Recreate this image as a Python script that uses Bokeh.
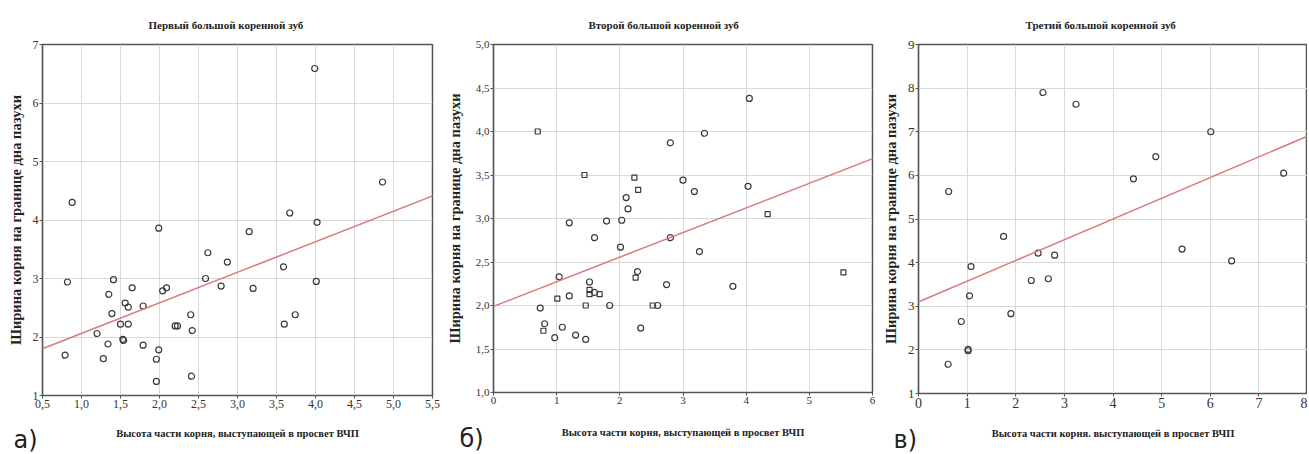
from bokeh.plotting import figure
from bokeh.layouts import row
from bokeh.models import Range1d, FixedTicker, Slope, Title
from bokeh.embed import file_html
from bokeh.resources import INLINE

# ---------------- data ----------------
titles = ["Первый большой коренной зуб", "Второй большой коренной зуб", "Третий большой коренной зуб"]
x_label_ab = "Высота части корня, выступающей в просвет ВЧП"
x_label_c = "Высота части корня. выступающей в просвет ВЧП"
y_label = "Ширина корня на границе дна пазухи"
letters = ["а)", "б)", "в)"]

# Panel a
a_x = [0.79, 0.82, 0.88, 1.20, 1.28, 1.34, 1.35, 1.39, 1.41, 1.50, 1.53, 1.54, 1.56, 1.60, 1.60,
       1.65, 1.79, 1.79, 1.96, 1.96, 1.99, 1.99, 2.04, 2.09, 2.20, 2.23, 2.40, 2.41, 2.42, 2.59,
       2.62, 2.79, 2.87, 3.15, 3.20, 3.59, 3.60, 3.67, 3.74, 3.99, 4.01, 4.02, 4.86]
a_y = [1.69, 2.94, 4.30, 2.06, 1.63, 1.88, 2.73, 2.40, 2.98, 2.22, 1.96, 1.94, 2.58, 2.51, 2.22,
       2.84, 2.53, 1.86, 1.62, 1.24, 3.86, 1.78, 2.79, 2.84, 2.19, 2.19, 2.38, 1.33, 2.11, 3.00,
       3.44, 2.87, 3.28, 3.80, 2.83, 3.20, 2.22, 4.12, 2.38, 6.59, 2.95, 3.96, 4.65]
a_fit = (1.54, 0.522)  # intercept, slope
a_xticks = [0.5, 1.0, 1.5, 2.0, 2.5, 3.0, 3.5, 4.0, 4.5, 5.0, 5.5]
a_xlabels = ["0,5", "1,0", "1,5", "2,0", "2,5", "3,0", "3,5", "4,0", "4,5", "5,0", "5,5"]
a_yticks = [1, 2, 3, 4, 5, 6, 7]
a_ylabels = ["1", "2", "3", "4", "5", "6", "7"]

# Panel b (two marker kinds)
b_sq_x = [0.70, 1.44, 2.23, 2.29, 4.34, 5.54, 2.25, 1.52, 1.52, 1.68, 1.01, 1.46, 2.52, 0.79]
b_sq_y = [4.00, 3.50, 3.47, 3.33, 3.05, 2.38, 2.32, 2.18, 2.13, 2.13, 2.08, 2.00, 2.00, 1.71]
b_ci_x = [4.05, 3.34, 2.80, 3.00, 3.18, 4.03, 2.10, 2.13, 1.20, 1.79, 2.03, 1.60, 2.80, 2.01, 3.26,
          1.04, 2.28, 1.52, 1.60, 2.74, 3.79, 1.20, 0.74, 1.84, 2.60, 0.81, 1.09, 0.97, 1.30, 1.46, 2.33]
b_ci_y = [4.38, 3.98, 3.87, 3.44, 3.31, 3.37, 3.24, 3.11, 2.95, 2.97, 2.98, 2.78, 2.78, 2.67, 2.62,
          2.33, 2.39, 2.27, 2.15, 2.24, 2.22, 2.11, 1.97, 2.00, 2.00, 1.79, 1.75, 1.63, 1.66, 1.61, 1.74]
b_fit = (1.99, 0.283)
b_xticks = [0, 1, 2, 3, 4, 5, 6]
b_xlabels = ["0", "1", "2", "3", "4", "5", "6"]
b_yticks = [1.0, 1.5, 2.0, 2.5, 3.0, 3.5, 4.0, 4.5, 5.0]
b_ylabels = ["1,0", "1,5", "2,0", "2,5", "3,0", "3,5", "4,0", "4,5", "5,0"]

# Panel c
c_x = [2.56, 3.24, 0.62, 4.42, 4.88, 6.01, 7.51, 1.75, 5.42, 6.44, 2.46, 2.80, 1.08, 2.32, 2.67,
       1.05, 1.90, 0.88, 1.02, 1.02, 0.61]
c_y = [7.90, 7.63, 5.63, 5.92, 6.43, 7.00, 6.05, 4.60, 4.31, 4.04, 4.22, 4.17, 3.91, 3.59, 3.63,
       3.24, 2.83, 2.65, 2.01, 1.98, 1.67]
c_fit = (3.10, 0.475)
c_xticks = [0, 1, 2, 3, 4, 5, 6, 7, 8]
c_xlabels = ["0", "1", "2", "3", "4", "5", "6", "7", "8"]
c_yticks = [1, 2, 3, 4, 5, 6, 7, 8, 9]
c_ylabels = ["1", "2", "3", "4", "5", "6", "7", "8", "9"]

SERIF = "Liberation Serif"
MARK = "#3a3a3a"
FIT = "#d47c7c"


def make_panel(title, xr, yr, xticks, xlabels, yticks, ylabels, xlabel, fit,
               frame_w, frame_h, bl, br, bt, bb, ylab_standoff, xlab_standoff,
               tick_font, title_off, letter, letter_off, xtick_font=None):
    p = figure(frame_width=frame_w, frame_height=frame_h,
               x_range=Range1d(*xr), y_range=Range1d(*yr),
               min_border_left=bl, min_border_right=br, min_border_top=bt, min_border_bottom=bb,
               output_backend="svg", toolbar_location=None, background_fill_color="white",
               border_fill_color="white")
    p.outline_line_color = "#555555"
    p.outline_line_width = 1.5
    p.xaxis.ticker = FixedTicker(ticks=xticks)
    p.yaxis.ticker = FixedTicker(ticks=yticks)
    p.xaxis.major_label_overrides = {t: l for t, l in zip(xticks, xlabels)}
    p.yaxis.major_label_overrides = {t: l for t, l in zip(yticks, ylabels)}
    for ax in (p.xaxis[0], p.yaxis[0]):
        ax.axis_line_color = "#555555"
        ax.axis_line_width = 1.2
        ax.major_tick_line_color = "#555555"
        ax.major_tick_out = 3
        ax.major_tick_in = 0
        ax.minor_tick_line_color = None
        ax.major_label_text_font = SERIF
        ax.major_label_text_color = "#333333"
        ax.major_label_standoff = 1
        ax.axis_label_text_font = SERIF
        ax.axis_label_text_font_style = "bold"
        ax.axis_label_text_color = "#222222"
    p.yaxis.major_label_text_font_size = tick_font
    p.xaxis.major_label_text_font_size = xtick_font or tick_font
    p.xaxis.axis_label = xlabel
    p.yaxis.axis_label = y_label
    p.xaxis.axis_label_text_font_size = "10.5px"
    p.yaxis.axis_label_text_font_size = "14.5px"
    p.yaxis.axis_label_standoff = ylab_standoff
    p.xaxis.axis_label_standoff = xlab_standoff
    p.grid.grid_line_color = "#d9d9d9"
    p.grid.grid_line_width = 1
    p.add_layout(Slope(gradient=fit[1], y_intercept=fit[0], line_color=FIT, line_width=1.5))
    p.add_layout(Title(text=title, align="left", offset=title_off, standoff=28,
                       vertical_align="bottom", text_font=SERIF, text_font_style="bold",
                       text_font_size="11px", text_color="#222222"), "above")
    p.add_layout(Title(text=letter, align="left", offset=letter_off, standoff=-32,
                       vertical_align="top", text_font="DejaVu Sans", text_font_style="normal",
                       text_font_size="24px", text_color="#222222"), "below")
    return p


pa = make_panel(titles[0], (0.5, 5.5), (1, 7), a_xticks, a_xlabels, a_yticks, a_ylabels, x_label_ab,
                a_fit, 390, 351, 42, 8, 44, 58, 6, 17, "12px", 106, letters[0], -29)
pa.scatter(a_x, a_y, marker="circle", size=6, fill_color=None, line_color=MARK, line_width=1.2)

pb = make_panel(titles[1], (0, 6), (1, 5), b_xticks, b_xlabels, b_yticks, b_ylabels, x_label_ab,
                b_fit, 379, 348, 53, 5, 43, 62, 10, 20, "11px", 95, letters[1], -34)
pb.scatter(b_ci_x, b_ci_y, marker="circle", size=6, fill_color=None, line_color=MARK, line_width=1.2)
pb.scatter(b_sq_x, b_sq_y, marker="square", size=5, fill_color=None, line_color=MARK, line_width=1.2)

pc = make_panel(titles[2], (0, 8), (1, 9), c_xticks, c_xlabels, c_yticks, c_ylabels, x_label_c,
                c_fit, 389, 349, 41, 0, 43, 61, 6, 17, "13px", 107, letters[2], -25,
                xtick_font="14px")
pc.scatter(c_x, c_y, marker="circle", size=6, fill_color=None, line_color=MARK, line_width=1.2)

layout = row(pa, pb, pc)
open("out.html", "w").write(file_html(layout, INLINE))
